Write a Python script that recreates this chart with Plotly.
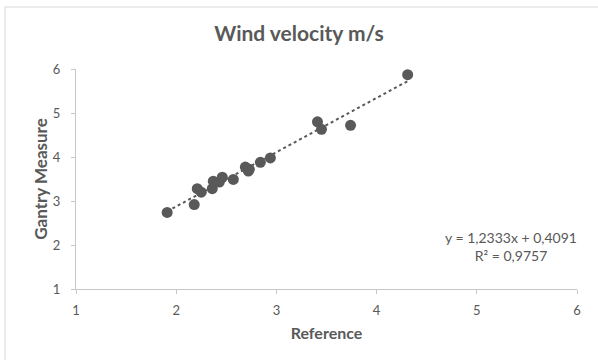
import plotly.graph_objects as go

ref_x = [1.91, 2.18, 2.21, 2.25, 2.36, 2.37, 2.43, 2.46, 2.57, 2.69, 2.72, 2.73, 2.84, 2.94, 3.41, 3.45, 3.74, 4.31]
gantry_y = [2.74, 2.92, 3.28, 3.20, 3.28, 3.45, 3.43, 3.54, 3.49, 3.77, 3.68, 3.72, 3.88, 3.98, 4.80, 4.63, 4.72, 5.87]
slope, intercept = 1.2333, 0.4091
eq_text = "y = 1,2333x + 0,4091<br>R² = 0,9757"
title = "Wind velocity m/s"

W, H = 598, 360
L, R, T, B = 76, 21, 69, 71
pw, ph = W - L - R, H - T - B

gray = "#595959"
fnt = "Lato, Open Sans, sans-serif"
fig = go.Figure()
tx = [min(ref_x), max(ref_x)]
fig.add_trace(go.Scatter(x=tx, y=[slope * v + intercept for v in tx], mode="lines",
                         line=dict(color=gray, width=2, dash="dot"), hoverinfo="skip", showlegend=False))
fig.add_trace(go.Scatter(x=ref_x, y=gantry_y, mode="markers",
                         marker=dict(color=gray, size=11), showlegend=False))

fig.update_layout(
    width=W, height=H, margin=dict(l=L, r=R, t=T, b=B),
    paper_bgcolor="white", plot_bgcolor="white",
    font=dict(family=fnt, color=gray, size=13),
    title=dict(text="<b>" + title + "</b>", x=0.5, xanchor="center", y=1 - 34 / H, yanchor="middle",
               font=dict(size=21, color=gray, family=fnt)),
    xaxis=dict(range=[1, 6], dtick=1, showgrid=False, zeroline=False, showline=True,
               linecolor="#c8c8c8", linewidth=1, ticks="outside", ticklen=4, tickcolor="#c8c8c8",
               tickfont=dict(size=13, color=gray), ticklabelstandoff=5,
               title=dict(text="<b>Reference</b>", font=dict(size=16, color=gray), standoff=11)),
    yaxis=dict(range=[1, 6], dtick=1, showgrid=False, zeroline=False, showline=True,
               linecolor="#c8c8c8", linewidth=1, ticks="outside", ticklen=4, tickcolor="#c8c8c8",
               tickfont=dict(size=13, color=gray), ticklabelstandoff=8,
               title=dict(text="<b>Gantry Measure</b>", font=dict(size=17, color=gray), standoff=0)),
    annotations=[dict(text=eq_text, x=(511 - L) / pw, y=1 - (246 - T) / ph, xref="paper", yref="paper",
                      xanchor="center", yanchor="middle",
                      showarrow=False, align="center", font=dict(size=14, color=gray))],
    shapes=[dict(type="rect", xref="paper", yref="paper",
                 x0=(5 - L) / pw, x1=(600 - L) / pw, y0=1 - (362 - T) / ph, y1=1 + (T - 7) / ph,
                 line=dict(color="#d9d9d9", width=1), fillcolor="rgba(0,0,0,0)", layer="below")],
)
fig.write_html("out.html")
